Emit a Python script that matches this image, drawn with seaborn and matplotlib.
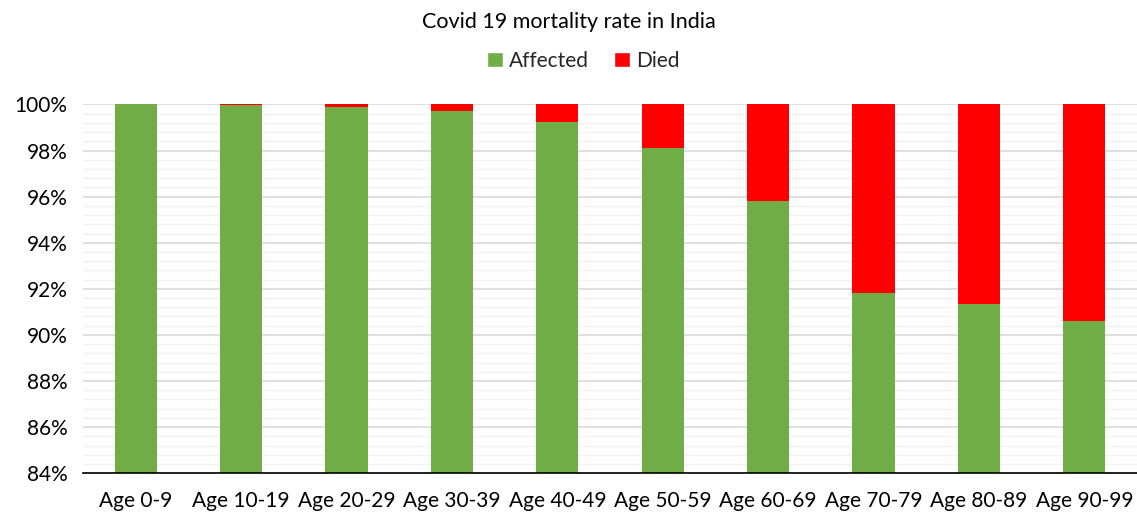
import matplotlib
matplotlib.use("Agg")
import matplotlib.pyplot as plt
import matplotlib.ticker as mticker
from matplotlib.patches import Patch
import seaborn as sns
import pandas as pd

categories = ["Age 0-9", "Age 10-19", "Age 20-29", "Age 30-39", "Age 40-49",
              "Age 50-59", "Age 60-69", "Age 70-79", "Age 80-89", "Age 90-99"]
affected = [100.0, 99.97, 99.9, 99.72, 99.24, 98.11, 95.82, 91.84, 91.34, 90.61]
died = [0.0, 0.03, 0.1, 0.28, 0.76, 1.89, 4.18, 8.16, 8.66, 9.39]
title = "Covid 19 mortality rate in India"

green = "#70AD47"
red = "#FF0000"

sns.set_theme(style="white")
plt.rcParams["font.family"] = ["Lato", "DejaVu Sans"]

df = pd.DataFrame({"cat": categories, "affected": affected,
                   "total": [a + d for a, d in zip(affected, died)]})

fig = plt.figure(figsize=(11.37, 5.16), dpi=100)
ax = fig.add_axes([0.073, 0.083, 0.927, 0.7145])

sns.barplot(data=df, x="cat", y="total", color=red, width=0.4, ax=ax,
            saturation=1, linewidth=0, zorder=3)
sns.barplot(data=df, x="cat", y="affected", color=green, width=0.4, ax=ax,
            saturation=1, linewidth=0, zorder=4)

ax.set_ylim(84, 100)
ax.set_xlim(-0.5, len(categories) - 0.5)
ax.yaxis.set_major_locator(mticker.MultipleLocator(2))
ax.yaxis.set_minor_locator(mticker.MultipleLocator(0.4))
ax.yaxis.set_major_formatter(mticker.FuncFormatter(lambda v, p: f"{v:.0f}%"))
ax.grid(which="major", axis="y", color="#D9D9D9", linewidth=1.2, zorder=0)
ax.grid(which="minor", axis="y", color="#F2F2F2", linewidth=1.0, zorder=0)
ax.set_axisbelow(True)
for s in ["left", "right", "top"]:
    ax.spines[s].set_visible(False)
ax.spines["bottom"].set_color("black")
ax.spines["bottom"].set_linewidth(1.2)
ax.spines["bottom"].set_zorder(5)
ax.tick_params(axis="both", which="both", length=0, labelsize=15, colors="black")
ax.tick_params(axis="x", pad=13)
ax.tick_params(axis="y", pad=11)
ax.set_xlabel("")
ax.set_ylabel("")

fig.text(0.5, 0.958, title, ha="center", va="center", fontsize=15.5, color="black")
handles = [Patch(facecolor=green, label="Affected"), Patch(facecolor=red, label="Died")]
fig.legend(handles=handles, loc="center", bbox_to_anchor=(0.513, 0.882), ncol=2,
           frameon=False, fontsize=15, handlelength=0.75, handleheight=0.75,
           handletextpad=0.3, columnspacing=1.2)

fig.savefig("out.png", dpi=100)
